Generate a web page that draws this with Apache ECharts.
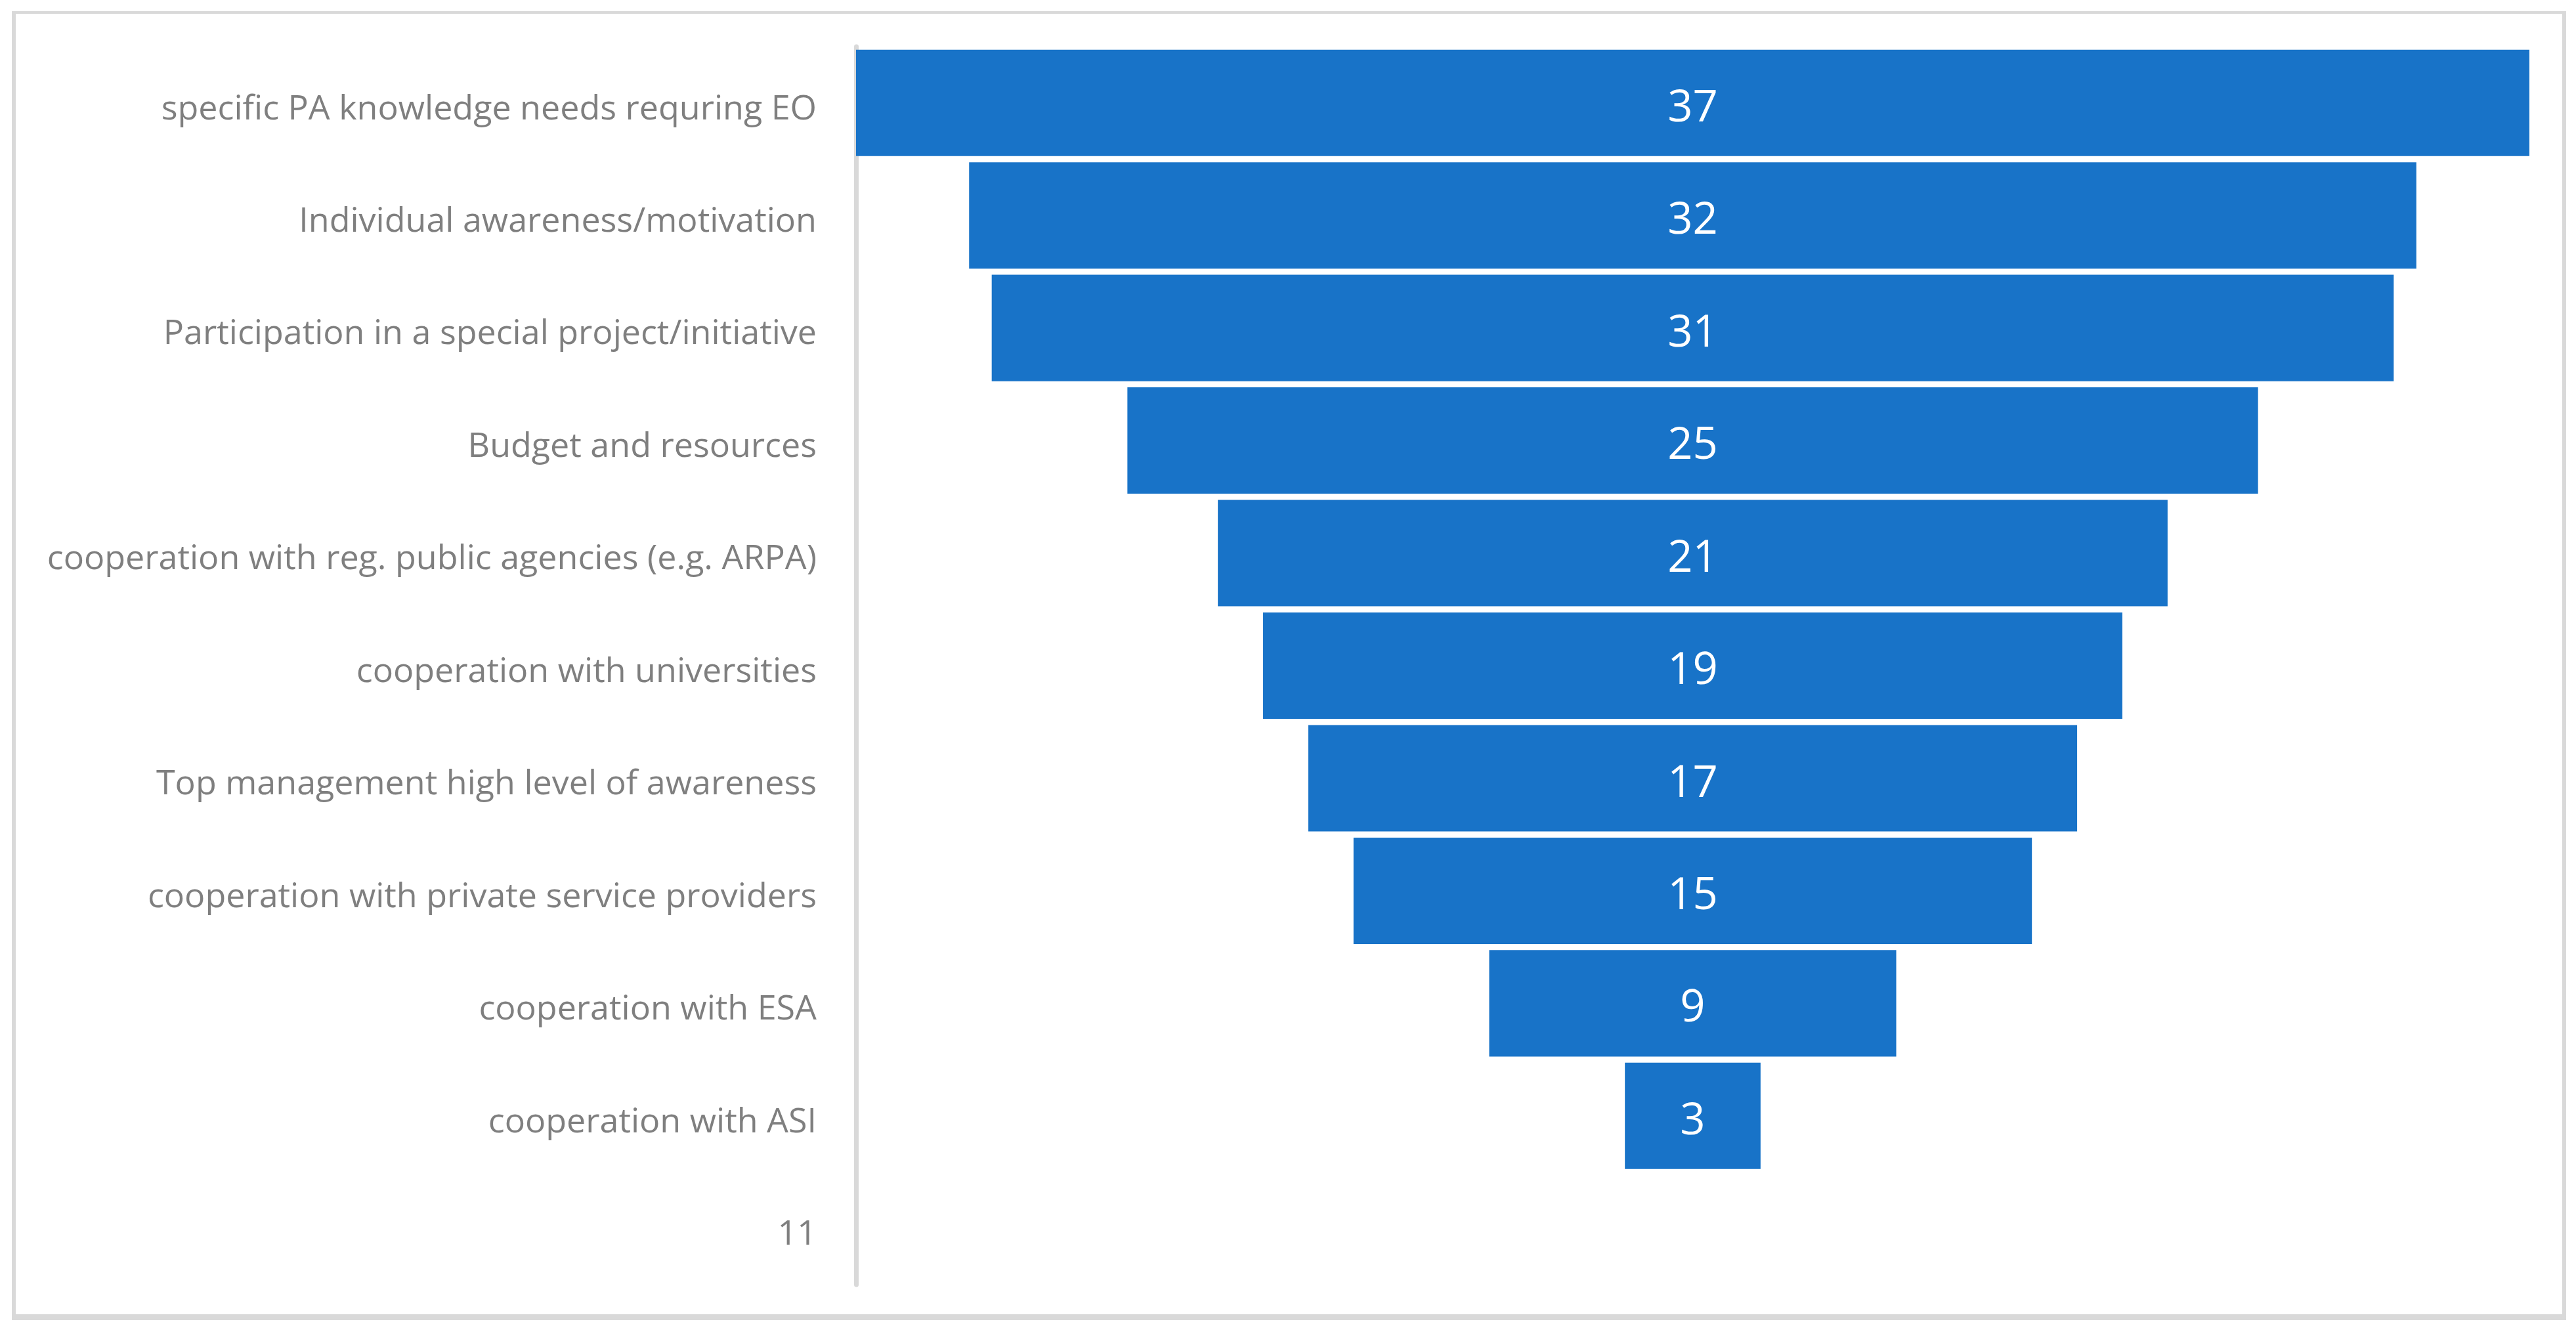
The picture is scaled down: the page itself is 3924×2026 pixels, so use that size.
<!DOCTYPE html>
<html>
<head>
<meta charset="utf-8">
<script src="https://cdn.jsdelivr.net/npm/echarts@6/dist/echarts.min.js"></script>
<style>
html,body{margin:0;padding:0;background:#fff;}
#frame{position:absolute;left:18px;top:17px;width:3879px;height:1981px;border-left:6px solid #d9d9d9;border-top:4px solid #d9d9d9;border-right:6px solid #d9d9d9;border-bottom:9px solid #d9d9d9;}
#chart{position:absolute;left:0;top:0;width:3924px;height:2026px;}
</style>
</head>
<body>
<div id="frame"></div>
<div id="chart"></div>
<script>
const categories = [
  "specific PA knowledge needs requring EO",
  "Individual awareness/motivation",
  "Participation in a special project/initiative",
  "Budget and resources",
  "cooperation with reg. public agencies (e.g. ARPA)",
  "cooperation with universities",
  "Top management high level of awareness",
  "cooperation with private service providers",
  "cooperation with ESA",
  "cooperation with ASI",
  "11"
];
const values = [37, 32, 31, 25, 21, 19, 17, 15, 9, 3, null];

const maxVal = Math.max(...values.filter(v => v != null));
const offsets = values.map(v => v == null ? null : (maxVal - v) / 2);

const chart = echarts.init(document.getElementById('chart'));
chart.setOption({
  animation: false,
  backgroundColor: 'transparent',
  grid: { left: 1304, right: 71, top: 71, bottom: 69, containLabel: false },
  xAxis: {
    type: 'value', min: 0, max: maxVal, show: false
  },
  yAxis: {
    type: 'category',
    data: categories,
    inverse: true,
    offset: 3,
    axisLine: { show: true, lineStyle: { color: '#d9d9d9', width: 7 } },
    axisTick: { show: false },
    axisLabel: {
      margin: 57,
      color: '#7f7f7f',
      fontFamily: 'Open Sans',
      fontSize: 52,
      verticalAlign: 'top',
      lineHeight: 20
    },
    splitLine: { show: false }
  },
  series: [
    {
      type: 'bar', stack: 'f', data: offsets,
      itemStyle: { color: 'transparent' },
      barCategoryGap: '5.5%',
      silent: true
    },
    {
      type: 'bar', stack: 'f', data: values,
      itemStyle: { color: '#1873c8' },
      barCategoryGap: '5.5%',
      label: {
        show: true, position: 'inside', color: '#ffffff',
        fontFamily: 'Open Sans', fontSize: 67,
        offset: [0, 9]
      }
    }
  ]
});
</script>
</body>
</html>
